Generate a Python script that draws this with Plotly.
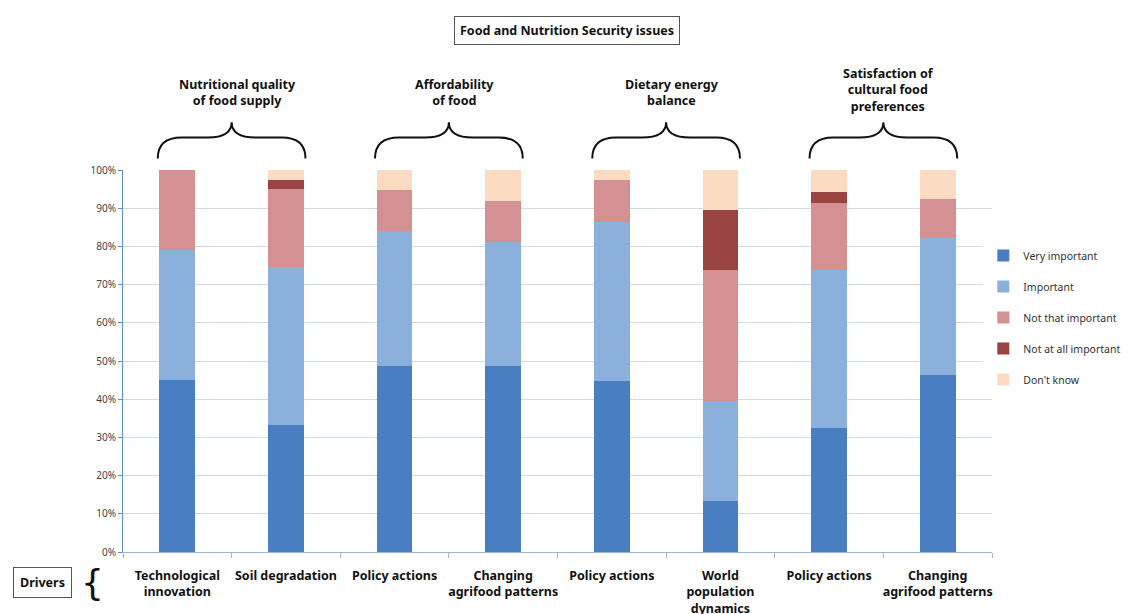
import plotly.graph_objects as go

drivers = ["Technological<br>innovation", "Soil degradation", "Policy actions",
           "Changing<br>agrifood patterns", "Policy actions", "World<br>population<br>dynamics",
           "Policy actions", "Changing<br>agrifood patterns"]
issues = ["Nutritional quality<br>of food supply", "Affordability<br>of food",
          "Dietary energy<br>balance", "Satisfaction of<br>cultural food<br>preferences"]

very_important = [45.0, 33.2, 48.7, 48.7, 44.8, 13.4, 32.5, 46.3]
important = [34.0, 41.5, 35.4, 32.5, 41.7, 26.1, 41.3, 35.9]
not_that_important = [21.0, 20.3, 10.7, 10.7, 10.9, 34.3, 17.6, 10.2]
not_at_all_important = [0.0, 2.4, 0.0, 0.0, 0.0, 15.7, 2.9, 0.0]
dont_know = [0.0, 2.6, 5.2, 8.1, 2.6, 10.5, 5.7, 7.6]

series = [
    ("Very important", very_important, "#4a7ec2"),
    ("Important", important, "#8cb0dc"),
    ("Not that important", not_that_important, "#d49092"),
    ("Not at all important", not_at_all_important, "#9a4343"),
    ("Don't know", dont_know, "#fbdcc3"),
]

FONT = "Liberation Sans Narrow, Arial Narrow, Noto Sans, sans-serif"
x = list(range(len(drivers)))

fig = go.Figure()
for name, vals, color in series:
    fig.add_trace(go.Bar(x=x, y=vals, name=name, marker_color=color,
                         marker_line_width=0, legendgroup=name, width=0.33))

# page body adds an 8px margin, so the figure is a bit smaller than the window
fig.update_layout(
    barmode="stack",
    width=1123, height=606,
    margin=dict(l=115, r=139, t=162, b=62, autoexpand=False),
    plot_bgcolor="white", paper_bgcolor="white",
    font=dict(family=FONT, color="#222222"),
    legend=dict(x=0.99, y=0.814, xanchor="left", yanchor="top",
                traceorder="grouped", tracegroupgap=12,
                font=dict(size=10.5, color="#333333"), itemwidth=30),
    showlegend=True,
)
fig.update_xaxes(
    tickvals=x, ticktext=["<b>%s</b>" % d for d in drivers],
    range=[-0.5, len(drivers) - 0.5],
    showline=True, linecolor="#9fb6cc", linewidth=1,
    ticks="", tickfont=dict(size=12.5, color="#111111"),
    ticklabelstandoff=12,
    minor=dict(tickvals=[i - 0.5 for i in range(len(drivers) + 1)],
               ticks="outside", ticklen=5, tickcolor="#9fb6cc", showgrid=False),
    showgrid=False,
)
fig.update_yaxes(
    range=[0, 100], dtick=10, ticksuffix="%",
    showline=True, linecolor="#5b8fd0", linewidth=1,
    ticks="outside", ticklen=4, tickcolor="#5b8fd0",
    gridcolor="#cfdde9", gridwidth=1,
    tickfont=dict(size=10, color="#444444"),
    zeroline=False,
)

# braces over the pairs of drivers, one per issue
yb, ym, yt = 1.03, 1.085, 1.125
half, a = 0.68, 0.22
for i, label in enumerate(issues):
    xc = 2 * i + 0.5
    xl, xr = xc - half, xc + half
    path = (f"M {xl},{yb} Q {xl},{ym} {xl + a},{ym} L {xc - a},{ym} "
            f"Q {xc},{ym} {xc},{yt} Q {xc},{ym} {xc + a},{ym} "
            f"L {xr - a},{ym} Q {xr},{ym} {xr},{yb}")
    fig.add_shape(type="path", path=path, xref="x", yref="paper",
                  line=dict(color="#111111", width=2))
    label_y = 1.155 if label.count("<br>") < 2 else 1.14
    fig.add_annotation(x=xc + 0.05, y=label_y, xref="x", yref="paper",
                       text="<b>%s</b>" % label, showarrow=False,
                       xanchor="center", yanchor="bottom",
                       font=dict(size=12.5, color="#111111"))

fig.add_annotation(x=0.511, y=1.366, xref="paper", yref="paper",
                   text="<b>Food and Nutrition Security issues</b>", showarrow=False,
                   xanchor="center", yanchor="middle",
                   bordercolor="#555555", borderwidth=1, borderpad=5,
                   font=dict(size=12.5, color="#111111"))
fig.add_annotation(x=-0.093, y=-0.081, xref="paper", yref="paper",
                   text="<b>Drivers</b>", showarrow=False,
                   xanchor="center", yanchor="middle",
                   bordercolor="#555555", borderwidth=1, borderpad=6,
                   font=dict(size=12.5, color="#111111"))
fig.add_annotation(x=-0.035, y=-0.081, xref="paper", yref="paper",
                   text="{", showarrow=False,
                   xanchor="center", yanchor="middle",
                   font=dict(size=36, color="#111111", family="DejaVu Sans ExtraLight, DejaVu Sans"))

fig.write_html("out.html")
